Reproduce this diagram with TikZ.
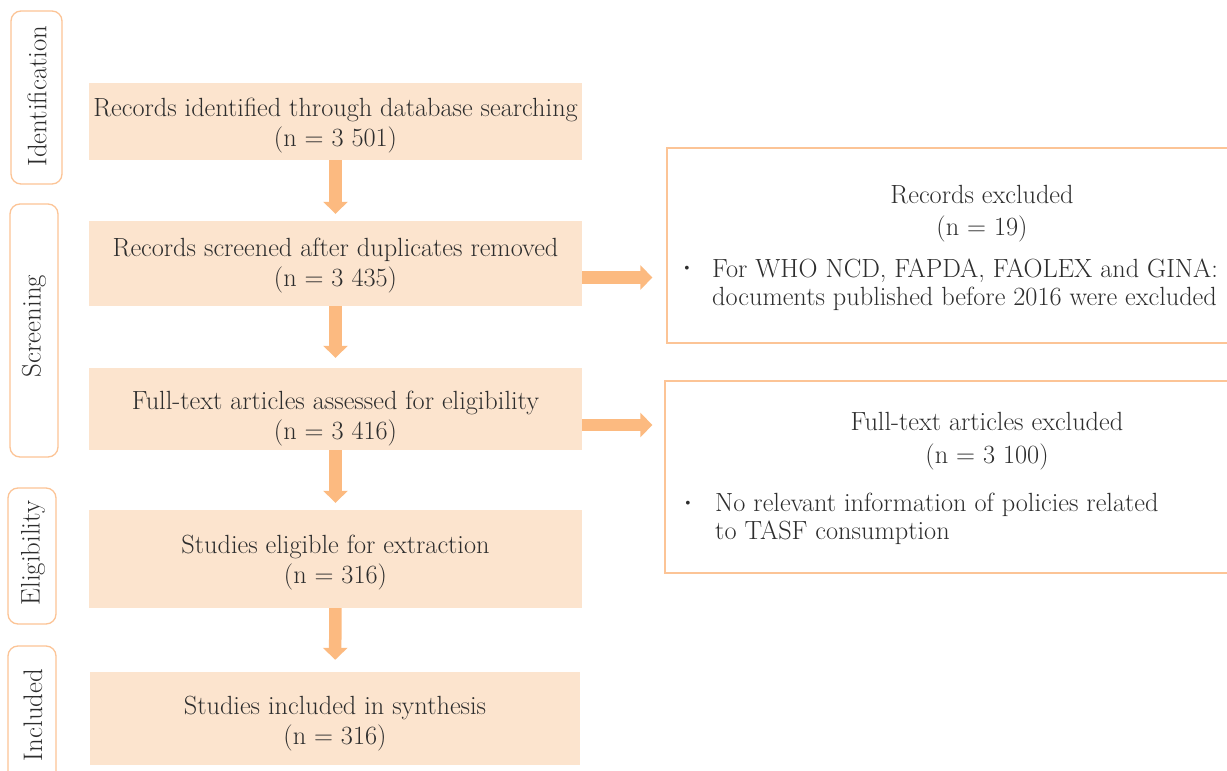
\documentclass[tikz,border=0pt]{standalone}
\usepackage{fontspec}
\usetikzlibrary{arrows.meta}
\definecolor{peach}{RGB}{252,228,206}
\definecolor{arr}{RGB}{252,186,128}
\definecolor{edge}{RGB}{252,196,150}
\definecolor{ink}{RGB}{45,45,45}
\tikzset{
  mainbox/.style={fill=peach, draw=none, inner sep=0pt, minimum width=493pt},
  maintext/.style={align=center, text=ink, inner sep=0pt, font=\fontsize{26.3}{30}\selectfont},
  stagebox/.style={draw=edge, line width=1.3pt, rounded corners=10pt, fill=white, inner sep=0pt},
  stagelabel/.style={rotate=90, text=ink, inner sep=0pt, font=\fontsize{26.8}{28}\selectfont},
  bigarrow/.style={draw=arr, line width=12.5pt, -{Triangle[width=24pt,length=12pt]}},
  exbox/.style={draw=edge, line width=1.3pt, inner sep=0pt, fill=white},
  extext/.style={text=ink, inner sep=0pt, font=\fontsize{26.3}{28}\selectfont},
  bulletmark/.style={text=ink, inner sep=0pt, font=\fontsize{14}{14}\selectfont},
}
\begin{document}
\begin{tikzpicture}[x=1pt,y=-1pt]
\clip (0,0) rectangle (1227,771);
\fill[white] (0,0) rectangle (1227,771);

% stage labels
\node[stagebox, minimum width=51pt, minimum height=173pt] (s1) at (36.5,97.5) {};
\node[stagelabel] (l1) at (37,96) {Identification};
\node[stagebox, minimum width=48pt, minimum height=253pt] (s2) at (34,330.5) {};
\node[stagelabel] (l2) at (34,326) {Screening};
\node[stagebox, minimum width=48pt, minimum height=136pt] (s3) at (32,556) {};
\node[stagelabel] (l3) at (33,553) {Eligibility};
\node[stagebox, minimum width=48pt, minimum height=150pt] (s4) at (32,721) {};
\node[stagelabel] (l4) at (33,715) {Included};

% main boxes
\node[mainbox, minimum height=77pt] (b1) at (335.5,121.5) {};
\node[maintext] (t1) at (335.5,126) {Records identified through database searching\\(n = 3 501)};
\node[mainbox, minimum height=85pt] (b2) at (335.5,263.5) {};
\node[maintext] (t2) at (335.5,265.5) {Records screened after duplicates removed\\(n = 3 435)};
\node[mainbox, minimum height=82pt] (b3) at (335.5,409) {};
\node[maintext] (t3) at (335.5,418.5) {Full-text articles assessed for eligibility\\(n = 3 416)};
\node[mainbox, minimum height=98pt] (b4) at (335.5,559) {};
\node[maintext] (t4) at (335.5,562.5) {Studies eligible for extraction\\(n = 316)};
\node[mainbox, minimum width=490pt, minimum height=93pt] (b5) at (335,718.5) {};
\node[maintext] (t5) at (335,724) {Studies included in synthesis\\(n = 316)};

% exclusion boxes
\node[exbox, minimum width=600pt, minimum height=195pt] (r1) at (967,245.5) {};
\node[maintext, font=\fontsize{26.3}{32}\selectfont] (r1t) at (982,213.5) {Records excluded\\(n = 19)};
\node[bulletmark] (r1b) at (687,269) {\textbullet};
\node[extext, anchor=west, align=left] (r1l) at (712,284.5) {For WHO NCD, FAPDA, FAOLEX and GINA:\\documents published before 2016 were excluded};

\node[exbox, minimum width=600pt, minimum height=192pt] (r2) at (965,477) {};
\node[maintext, font=\fontsize{26.3}{33}\selectfont] (r2t) at (987,441.5) {Full-text articles excluded\\(n = 3 100)};
\node[bulletmark] (r2b) at (688,504) {\textbullet};
\node[extext, anchor=west, align=left] (r2l) at (715,518.5) {No relevant information of policies related\\to TASF consumption};

% arrows
\draw[bigarrow, shorten >=7pt] (b1) -- (b2);
\draw[bigarrow, shorten >=10pt] (b2) -- (b3);
\draw[bigarrow, shorten >=7pt] (b3) -- (b4);
\draw[bigarrow, shorten >=12pt] (b4) -- (b5);
\coordinate (a1) at ([yshift=-14pt]b2.east);
\draw[bigarrow, shorten >=14pt] (a1) -- (a1 -| r1.west);
\coordinate (a2) at ([yshift=-16pt]b3.east);
\draw[bigarrow, shorten >=12pt] (a2) -- (a2 -| r2.west);
\end{tikzpicture}
\end{document}
